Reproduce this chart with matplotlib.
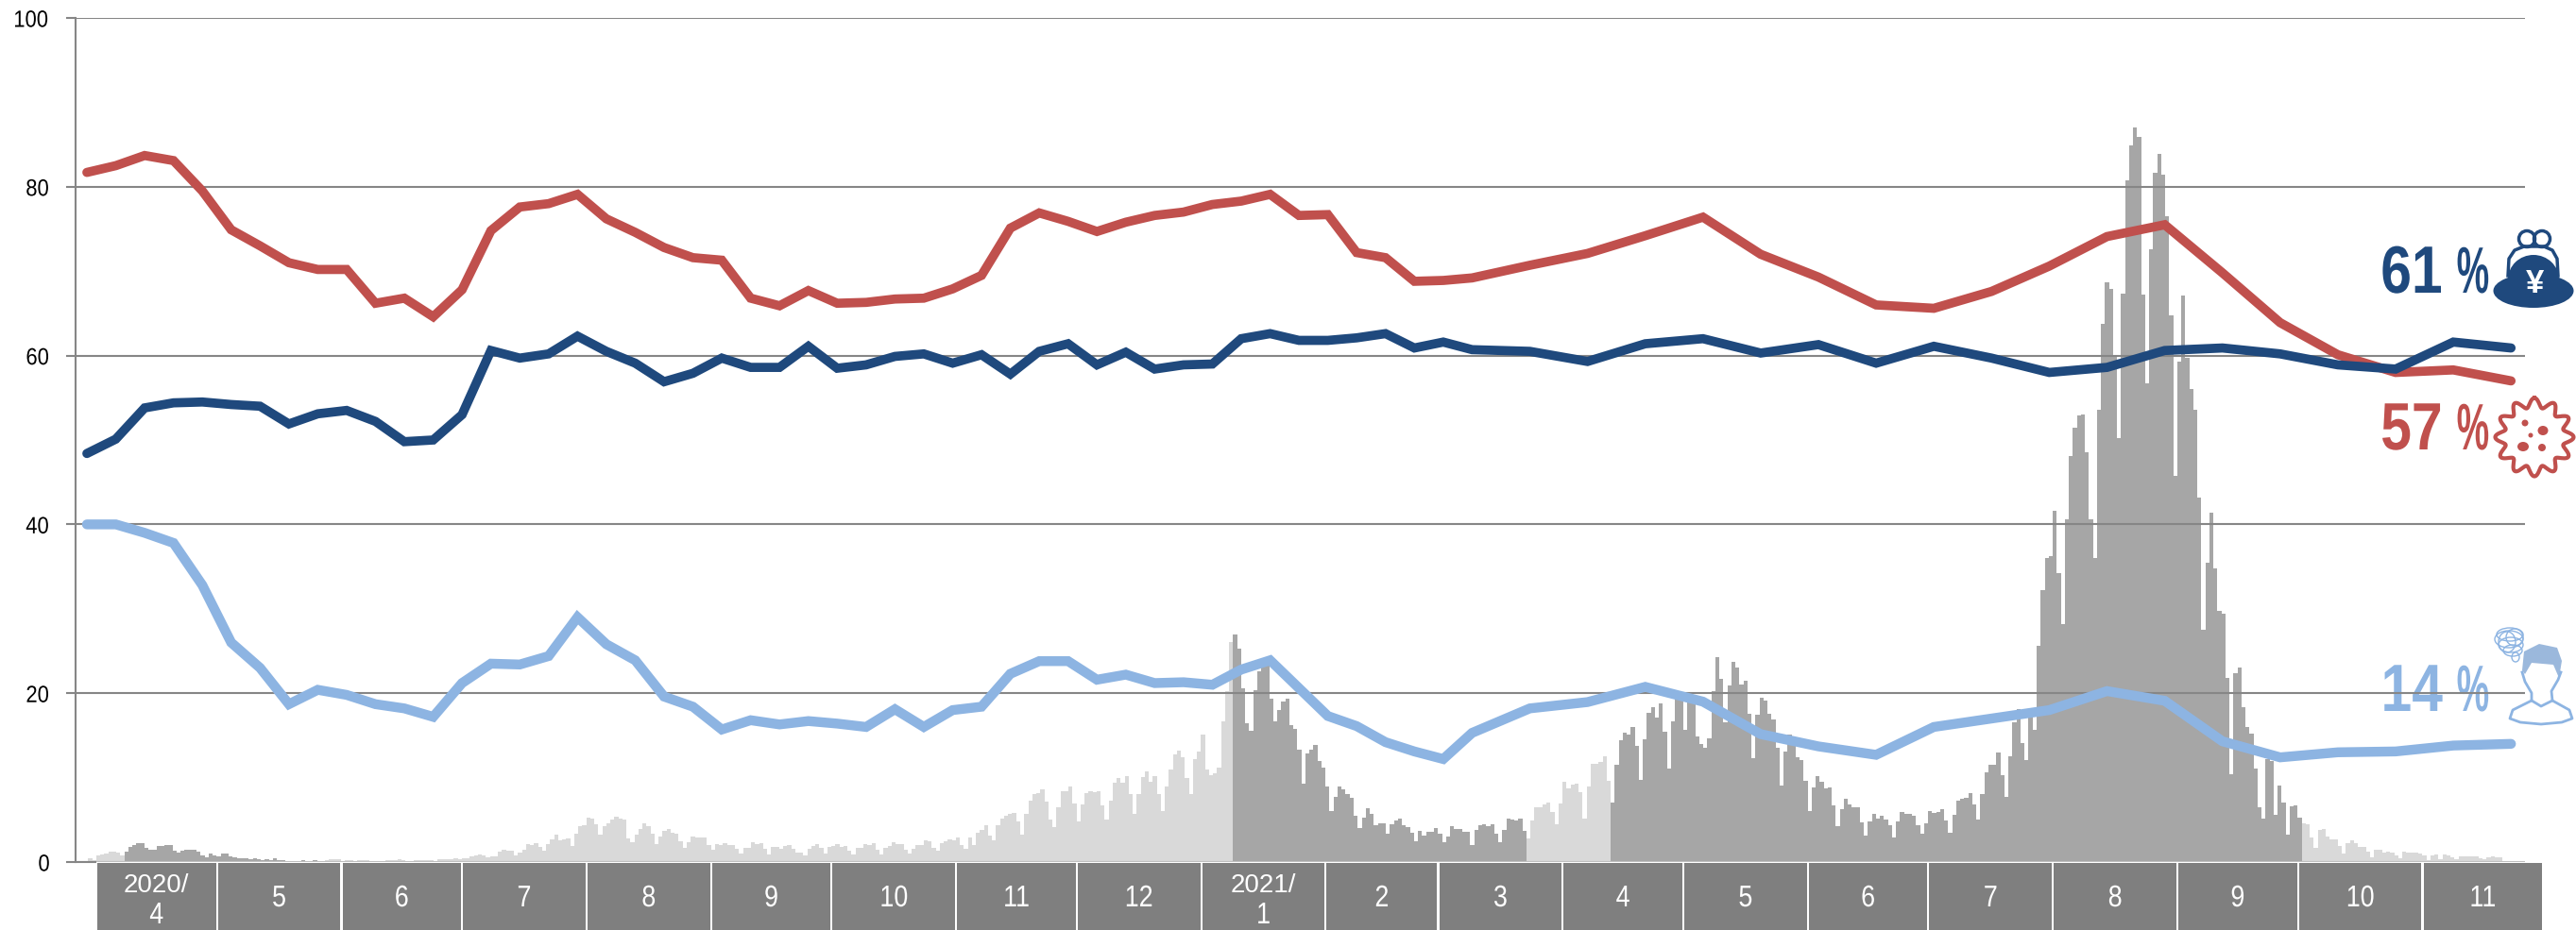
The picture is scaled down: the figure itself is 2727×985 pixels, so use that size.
import numpy as np
import matplotlib
matplotlib.use('Agg')
import matplotlib.pyplot as plt
from matplotlib.patches import Rectangle, Ellipse, Circle, Polygon
from matplotlib.patheffects import AbstractPathEffect
from matplotlib.transforms import Affine2D

# daily bars, light = no emergency measures, dark = emergency measures
bars_light_0 = [.5,.2,.8,.9,1.0,1.2,1.2,1.15,.8]
bars_dark_1 = [1.27,1.8,2.0,2.2,2.2,1.7,1.4,1.5,1.9,1.9,2.0,2.0,1.3,1.15,1.35,1.5,1.5,1.5,1.27,.75,.6,1.0,.75,.7,1.0,1.0,.7,.6,.45,.4,.4,.37,.45,.3,.27,.33,.27,.4,.27,.22,.1,.1,.1,.15,.2,.15,.15,.2]
bars_light_1 = [.1,.08,.18,.3,.33,.3,.15,.18,.22,.1,.22,.22,.18,.1,.07,.07,.15,.18,.22,.22,.3,.22,.15,.15,.26,.22,.22,.18,.18,.15,.3,.3,.33,.3,.4,.37,.4,.45,.63,.8,.9,.8,.55,.63,.67,1.23,1.4,1.3,1.35,.8,1.15,1.5,2.1,2.0,2.2,1.8,1.35,2.1,2.65,
    3.25,2.57,2.65,2.8,1.94,3.3,4.2,4.4,5.3,5.2,4.5,3.2,4.25,4.55,5.0,5.4,5.15,5.0,2.76,2.3,3.25,3.95,4.55,4.2,3.4,2.13,3.0,3.65,3.95,3.5,3.3,2.46,1.64,2.4,3.0,2.95,2.9,2.87,2.0,1.45,2.1,2.0,2.24,2.0,2.0,1.53,.97,1.7,1.7,2.4,2.16,2.2,1.53,.93,1.8,1.8,1.6,1.9,2.0,1.57,1.08,1.08,.75,1.57,1.94,2.13,1.64,1.0,1.75,1.94,2.1,1.83,1.9,1.34,.9,1.64,1.68,2.1,2.0,2.24,1.45,.9,1.68,1.87,2.4,2.16,2.1,1.5,1.04,1.6,2.05,2.05,2.54,2.43,1.64,1.34,2.2,2.46,2.7,2.6,2.87,2.0,1.6,2.87,2.0,3.5,3.8,4.37,3.13,2.57,4.33,5.2,5.5,5.75,5.8,4.8,3.25,
    5.67,7.3,8.0,8.17,8.6,7.2,5.07,4.1,6.5,8.36,8.43,8.9,6.9,4.8,6.8,8.13,8.43,8.25,8.36,6.75,5.04,7.28,9.44,9.93,9.44,10.15,8.0,5.67,8.06,10.04,10.75,9.5,10.15,8.06,6.04,8.96,10.97,12.76,13.17,12.43,9.9,8.06,12.16,13.1,15.1,10.93,10.3,10.5,11.16,16.64,20.3,26.1]
bars_dark_2 = [27.0,25.26,20.56,16.4,15.5,20.37,22.65,23.3,23.5,19.37,16.64,18.0,18.96,19.3,16.2,15.8,13.36,9.25,12.9,13.3,13.84,11.94,11.16,9.0,6.0,7.76,8.9,8.66,8.0,7.65,5.45,4.07,5.26,6.34,5.67,4.4,4.55,4.6,3.3,4.44,4.9,5.2,4.33,4.14,3.47,2.46,3.66,3.1,3.58,3.58,4.07,3.36,2.3,3.0,4.2,3.96,3.88,3.54,3.58,2.0,3.77,4.4,4.44,4.25,4.44,
    3.3,2.3,3.8,5.15,5.04,4.93,5.1,3.73]
bars_light_2 = [2.76,4.96,6.5,6.46,6.83,7.0,5.9,4.5,6.94,9.5,8.73,9.2,9.25,8.25,5.2,8.9,11.64,11.6,11.83,12.57,9.6]
bars_dark_3 = [7.05,11.57,14.44,15.34,15.15,16.04,13.73,9.74,14.5,17.7,18.32,17.16,18.8,15.45,11.08,16.68,19.4,19.6,15.67,18.9,18.9,14.93,14.03,13.58,14.6,20.26,24.3,21.75,16.57,20.93,23.66,23.0,21.0,21.5,17.57,12.35,17.46,19.48,19.1,17.57,16.9,13.58,9.1,13.1,15.15,14.0,12.43,12.05,9.63,6.0,8.84,10.19,9.5,8.7,8.88,6.75,4.3,6.3,7.46,6.87,6.53,6.53,4.66,3.13,4.78,5.67,5.2,5.45,5.07,4.37,2.9,4.8,5.93,5.67,5.75,5.45,4.33,3.36,4.63,6.08,5.86,5.93,6.23,4.93,3.43,5.56,7.31,7.46,7.57,
    8.2,6.8,5.0,8.0,10.67,11.47,11.53,12.96,10.33,7.76,12.56,16.55,18.1,14.1,12.1,17.2,15.7,25.6,32.25,36.0,36.25,41.6,34.25,28.2,40.6,48.06,51.4,52.9,53.0,48.6,40.6,36.0,53.6,63.8,68.66,67.9,59.8,50.17,67.35,80.76,84.9,87.0,85.9,67.2,56.7,72.6,81.7,83.9,81.45,76.5,64.8,45.8,59.3,67.1,59.76,56.05,53.6,43.15,27.57,35.45,41.44,34.76,29.7,29.45,21.8,10.4,22.4,23.0,18.4,16.0,15.2,11.04,6.46,5.15,12.16,12.0,5.6,9.03,7.05,3.28,6.57,6.68,5.26]
bars_light_3 = [4.6,4.44,2.9,1.7,3.8,3.96,3.0,2.7,2.65,1.9,.97,2.24,2.54,2.2,1.8,1.83,1.23,.6,1.42,1.42,1.08,1.2,1.08,.78,.45,1.2,1.08,1.08,1.08,.97,.75,.26,.78,.86,.34,.86,.75,.52,.37,.67,.67,.7,.67,.63,.41,.3,.52,.63,.56,.52]

# survey rounds: weekly first, then every two weeks
rounds = list(range(49)) + list(range(50, 85, 2))
money = [48.4,50.1,53.8,54.4,54.5,54.2,54.0,51.9,53.1,53.5,52.2,49.8,50.0,53.0,60.6,59.7,60.2,62.3,60.5,59.1,56.9,57.9,59.7,58.6,58.6,61.1,58.5,58.9,59.9,60.2,
    59.1,60.1,57.8,60.5,61.4,58.9,60.4,58.4,58.9,59.0,62.0,62.6,61.8,61.8,62.1,62.6,60.9,61.6,60.7,
    60.5,59.3,61.4,62.0,60.3,61.3,59.1,61.1,59.7,58.0,58.6,60.6,60.9,60.2,58.9,58.4,61.6,60.9]
virus = [81.7,82.5,83.7,83.1,79.5,74.9,73.0,71.0,70.2,70.2,66.2,66.8,64.6,67.8,74.8,77.6,78.0,79.1,76.2,74.6,72.8,71.6,71.3,66.8,65.9,67.7,66.2,66.3,66.7,66.8,
    67.9,69.5,75.1,76.9,75.9,74.7,75.8,76.6,77.0,77.9,78.3,79.1,76.6,76.7,72.2,71.6,68.8,68.9,69.2,
    70.7,72.1,74.2,76.4,72.0,69.3,66.0,65.6,67.6,70.6,74.1,75.5,69.8,63.9,60.1,58.0,58.3,57.0]
anxiety = [40,40,39.0,37.8,32.8,26.0,23.0,18.7,20.4,19.8,18.7,18.2,17.2,21.2,23.5,23.4,24.4,29.0,25.8,23.9,19.6,18.4,15.7,16.8,16.3,16.7,16.4,16.0,18.1,16.0,
    18.0,18.4,22.3,23.8,23.8,21.6,22.2,21.2,21.3,21.0,22.8,23.9,20.6,17.3,16.1,14.2,13.1,12.2,15.3,
    18.2,18.95,20.75,19.0,15.15,13.7,12.7,16.0,17.0,18.0,20.25,19.1,14.3,12.4,13.0,13.1,13.8,14.0]

month_days = [30,31,30,31,31,30,31,30,31,31,28,31,30,31,30,31,31,30,31,30]
month_labels = ['4','5','6','7','8','9','10','11','12','1','2','3','4','5','6','7','8','9','10','11']
year_labels = {0: '2020/', 9: '2021/'}
y_ticks = [0, 20, 40, 60, 80, 100]

GRID = '#868686'
NAVY = '#1F497D'
RED = '#C0504D'
SKY = '#8DB4E2'
FONT = 'Liberation Sans'
W, H = 2727, 985


# no condensed font here, so squeeze the text around its own centre
class Squeeze(AbstractPathEffect):
    def __init__(self, sx):
        super().__init__()
        self.sx = sx

    def draw_path(self, renderer, gc, tpath, affine, rgbFace=None):
        box = affine.transform_path(tpath).get_extents()
        cx = (box.x0 + box.x1) / 2
        new = affine + Affine2D().translate(-cx, 0).scale(self.sx, 1).translate(cx, 0)
        renderer.draw_path(gc, tpath, new, rgbFace)


fig = plt.figure(figsize=(W / 100, H / 100), dpi=100)

# overlay in pixels, behind the chart, for the labels and icons on the right
ov = fig.add_axes([0, 0, 1, 1], zorder=0)
ov.set_xlim(0, W)
ov.set_ylim(H, 0)
ov.axis('off')

left, right, top, bottom = 80, 2673, 19, 913
ax = fig.add_axes([left / W, 1 - bottom / H, (right - left) / W, (bottom - top) / H], zorder=1)
ax.patch.set_visible(False)
day_px = 4.253
bar_start_px = 93.3
ax.set_xlim((left - bar_start_px) / day_px, (right - bar_start_px) / day_px)
ax.set_ylim(0, 100)

segments = [(bars_light_0, '#D9D9D9'), (bars_dark_1, '#A6A6A6'), (bars_light_1, '#D9D9D9'),
            (bars_dark_2, '#A6A6A6'), (bars_light_2, '#D9D9D9'), (bars_dark_3, '#A6A6A6'),
            (bars_light_3, '#D9D9D9')]
pos = 0
for vals, col in segments:
    ax.bar(np.arange(pos, pos + len(vals)), vals, width=1, align='edge', color=col,
           linewidth=0, antialiased=False, zorder=1)
    pos += len(vals)

for t in y_ticks[1:]:
    ax.axhline(t, color=GRID, lw=1.5, zorder=2)
ax.axhline(0, color='#BFBFBF', lw=1.5, zorder=2)
ax.hlines(0, ax.get_xlim()[0], 2.05, color=GRID, lw=1.5, zorder=2, clip_on=False)
ax.set_xlim((left - bar_start_px) / day_px, (right - bar_start_px) / day_px)
ax.set_yticks(y_ticks)
ax.set_xticks([])
ax.tick_params(axis='y', length=7, width=1.5, color=GRID, pad=12)
for lab in ax.get_yticklabels():
    lab.set_family(FONT)
    lab.set_fontsize(18)
    lab.set_path_effects([Squeeze(0.88)])
for s in ['top', 'right', 'bottom']:
    ax.spines[s].set_visible(False)
ax.spines['left'].set_color(GRID)
ax.spines['left'].set_linewidth(1.5)

# month boxes under the axis, first box starts two bars in
tr = ax.get_xaxis_transform()
edge = 2.05
box_h = 80 / (bottom - top)
for i, d in enumerate(month_days):
    ax.add_patch(Rectangle((edge + 0.25, -0.001 - box_h), d - 0.5, box_h, transform=tr,
                           color='#7F7F7F', lw=0, clip_on=False))
    mid = edge + d / 2
    if i in year_labels:
        ax.text(mid, -25 / (bottom - top), year_labels[i], transform=tr, color='white', fontsize=20,
                family=FONT, ha='center', va='center')
        ax.text(mid, -57 / (bottom - top), month_labels[i], transform=tr, color='white', fontsize=23,
                family=FONT, ha='center', va='center', path_effects=[Squeeze(0.84)])
    else:
        ax.text(mid, -39 / (bottom - top), month_labels[i], transform=tr, color='white', fontsize=23,
                family=FONT, ha='center', va='center', path_effects=[Squeeze(0.84)])
    edge += d

# lines have their own survey round axis
ax2 = ax.twiny()
ax2.set_zorder(2)
round_px = 30.55
round_start_px = 92
ax2.set_xlim((left - round_start_px) / round_px, (right - round_start_px) / round_px)
ax2.axis('off')
for vals, col, lw in [(anxiety, SKY, 7.5), (virus, RED, 7), (money, NAVY, 7)]:
    ax2.plot(rounds, vals, color=col, lw=lw, solid_capstyle='round', solid_joinstyle='miter', zorder=3)

# right side labels
for txt, col, y in [('61', NAVY, 292), ('57', RED, 458), ('14', SKY, 735)]:
    ov.text(2553, y, txt, color=col, fontsize=51, fontweight='bold', family=FONT,
            ha='center', va='center', path_effects=[Squeeze(0.83)])
    ov.text(2618, y, '%', color=col, fontsize=50, fontweight='bold', family=FONT,
            ha='center', va='center', path_effects=[Squeeze(0.56)])

# purse
ov.add_patch(Ellipse((2682, 308), 85, 36, color=NAVY, lw=0))
ov.add_patch(Ellipse((2682, 296), 54, 52, color=NAVY, lw=0))
ov.plot([2655, 2656, 2662, 2672, 2693, 2702, 2707, 2708], [292, 274, 265, 261, 261, 265, 274, 292], color=NAVY, lw=2.5)
ov.add_patch(Circle((2675, 253), 8.5, fill=False, ec=NAVY, lw=2.5))
ov.add_patch(Circle((2691, 253), 8.5, fill=False, ec=NAVY, lw=2.5))
ov.text(2683, 300, '¥', color='white', fontsize=25, fontweight='bold', family=FONT,
        ha='center', va='center')

# virus
tt = np.linspace(0, 2 * np.pi, 300)
rr = 36.5 + 5 * np.cos(12 * tt)
ov.plot(2683 + rr * np.sin(tt), 463 - rr * np.cos(tt), color=RED, lw=3)
for cx, cy, rx, ry in [(2673, 448, 3.5, 3.5), (2692, 456, 5.5, 5), (2679, 461, 2.5, 2.5),
                       (2671, 473, 6, 5), (2691, 474, 4, 4)]:
    ov.add_patch(Ellipse((cx, cy), rx * 2, ry * 2, color=RED, lw=0))

# person with scribble
ov.add_patch(Polygon([(2670, 710), (2672, 690), (2688, 682), (2707, 686), (2712, 700), (2709, 718),
                      (2703, 704), (2680, 702), (2673, 714)], color='#9BB8DC', lw=0))
ov.plot([2670, 2673, 2680, 2680, 2660, 2657, 2668, 2690, 2712, 2723, 2720, 2702, 2701, 2708, 2711],
        [712, 722, 734, 742, 752, 761, 765, 767, 765, 761, 752, 742, 732, 720, 712],
        color=SKY, lw=2)
ov.plot([2680, 2690, 2702], [742, 748, 742], color=SKY, lw=2)
for cx, cy, rx, ry in [(2657, 672, 14, 7), (2656, 677, 15, 9), (2658, 683, 13, 8), (2660, 689, 10, 6),
                       (2654, 680, 9, 11), (2662, 675, 9, 9), (2663, 696, 4, 5)]:
    ov.add_patch(Ellipse((cx, cy), rx * 2, ry * 2, fill=False, ec=SKY, lw=1))

fig.savefig('out.png', dpi=100)
